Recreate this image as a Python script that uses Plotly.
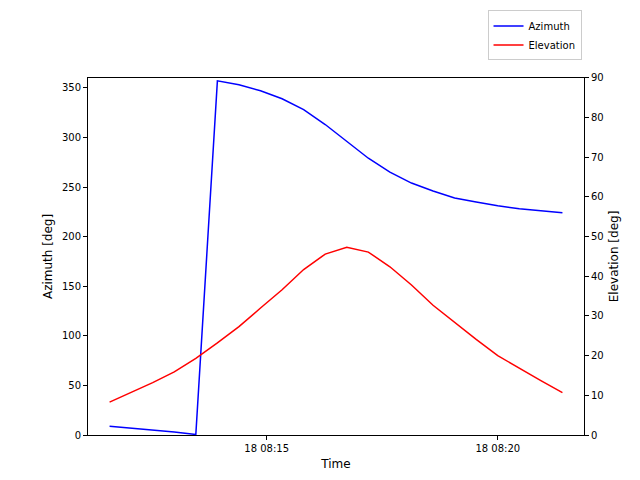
import plotly.graph_objects as go
import pandas as pd

times = pd.date_range("2000-01-18 08:11:36", periods=22, freq="28s")
azimuth = [8.8, 7, 5, 3, 0.5, 357, 353, 347, 339, 328, 313, 296, 279, 265, 254, 246, 239, 235, 231, 228, 226, 224]
elevation = [8.3, 10.7, 13.2, 15.9, 19.3, 23.2, 27.3, 32, 36.6, 41.7, 45.6, 47.3, 46.1, 42.4, 37.8, 32.7, 28.3, 24.1, 20, 16.8, 13.7, 10.7]
tickvals = ["2000-01-18 08:15:00", "2000-01-18 08:20:00"]
ticktext = ["18 08:15", "18 08:20"]

fig = go.Figure()
fig.add_trace(go.Scatter(x=times, y=azimuth, name="Azimuth", mode="lines", line=dict(color="blue", width=1.5)))
fig.add_trace(go.Scatter(x=times, y=elevation, name="Elevation", mode="lines", line=dict(color="red", width=1.5), yaxis="y2"))
ax = dict(showgrid=False, zeroline=False, showline=True, linecolor="black", ticks="outside", ticklen=4, tickcolor="black", tickfont=dict(size=10, color="black"))
x0, x1 = pd.Timestamp("2000-01-18 08:11:08"), pd.Timestamp("2000-01-18 08:21:52")
fig.update_layout(
    width=640, height=480, plot_bgcolor="white", paper_bgcolor="white",
    font=dict(family="DejaVu Sans", size=10, color="black"),
    margin=dict(l=80, r=64, t=58, b=53),
    xaxis=dict(**ax, range=[x0, x1], tickvals=tickvals, ticktext=ticktext, title=dict(text="Time", standoff=6), mirror=True),
    yaxis=dict(**ax, range=[0, 360], dtick=50, title=dict(text="Azimuth [deg]", standoff=6)),
    yaxis2=dict(**ax, range=[0, 90], dtick=10, overlaying="y", side="right", title=dict(text="Elevation [deg]", standoff=6)),
    legend=dict(x=0.995, y=0.995, xref="paper", yref="container", xanchor="right", yanchor="top",
                bordercolor="#cccccc", borderwidth=1, font=dict(size=10)),
)
fig.write_html("out.html")
